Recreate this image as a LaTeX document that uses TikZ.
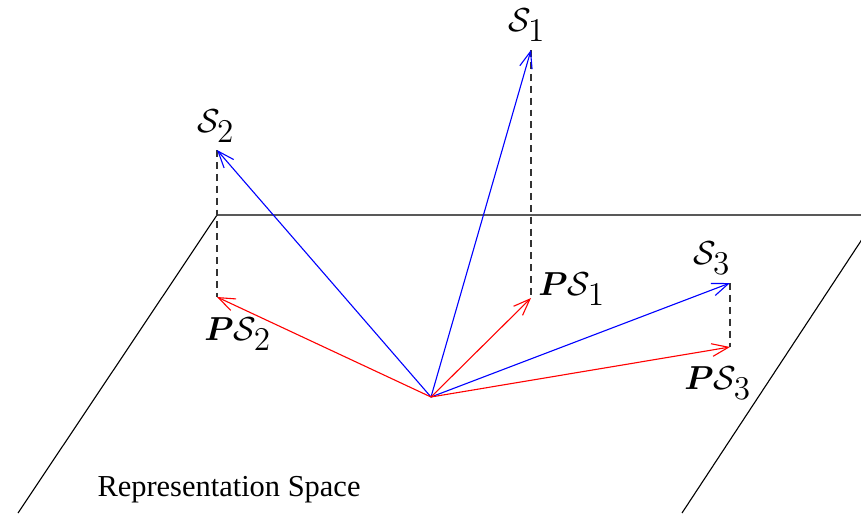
\documentclass[tikz,border=0pt]{standalone}
\usepackage{fontspec}
\usepackage{amsmath,amssymb}
\usepackage{tikz}
\usetikzlibrary{arrows.meta,positioning}
\newfontfamily\timesfont{Liberation Serif}
\newcommand{\sub}[1]{_{\textstyle #1}}

\begin{document}
\begin{tikzpicture}[x=0.0127cm, y=-0.0127cm, every node/.style={font=\fontsize{13}{15}\selectfont}, vec/.style={-{Straight Barb[length=6pt,width=4.6pt]}, line width=0.4pt}, proj/.style={draw=black!80, dash pattern=on 2.5pt off 1.8pt, line width=0.4pt}, plane/.style={draw=black, line width=0.4pt}]
\clip (0,0) rectangle (861,513);
% points
\coordinate (o) at (431,397);
\coordinate (s1) at (531,50);
\coordinate (s2) at (217,150);
\coordinate (s3) at (730,283);
\coordinate (p1) at (531,298);
\coordinate (p2) at (217,297);
\coordinate (p3) at (730,347);
% the plane
\coordinate (a) at (217,215);
\coordinate (b) at (878,215);
\coordinate (c) at (18,513);
\coordinate (d) at (682,513);
\draw[plane] (c)--(a)--(b)--(d);
% projections
\draw[proj] (s1)--(p1);
\draw[proj] (s2)--(p2);
\draw[proj] (s3)--(p3);
\draw[vec,blue] (o)--(s1);
\draw[vec,blue] (o)--(s2);
\draw[vec,blue] (o)--(s3);
\draw[vec,red] (o)--(p1);
\draw[vec,red] (o)--(p2);
\draw[vec,red] (o)--(p3);
% labels
\node (s1lab) at (527,25) {$\mathcal{S}\sub{1}$};
\node (s2lab) at (216,126) {$\mathcal{S}\sub{2}$};
\node (s3lab) at (712,258) {$\mathcal{S}\sub{3}$};
\node (p1lab) at (572,289) {$\boldsymbol{P}\mathcal{S}\sub{1}$};
\node (p2lab) at (238,334) {$\boldsymbol{P}\mathcal{S}\sub{2}$};
\node (p3lab) at (718,383) {$\boldsymbol{P}\mathcal{S}\sub{3}$};
\node[font=\timesfont\fontsize{11}{13}\selectfont] (space) at (229,490) {Representation Space};
\end{tikzpicture}
\end{document}
